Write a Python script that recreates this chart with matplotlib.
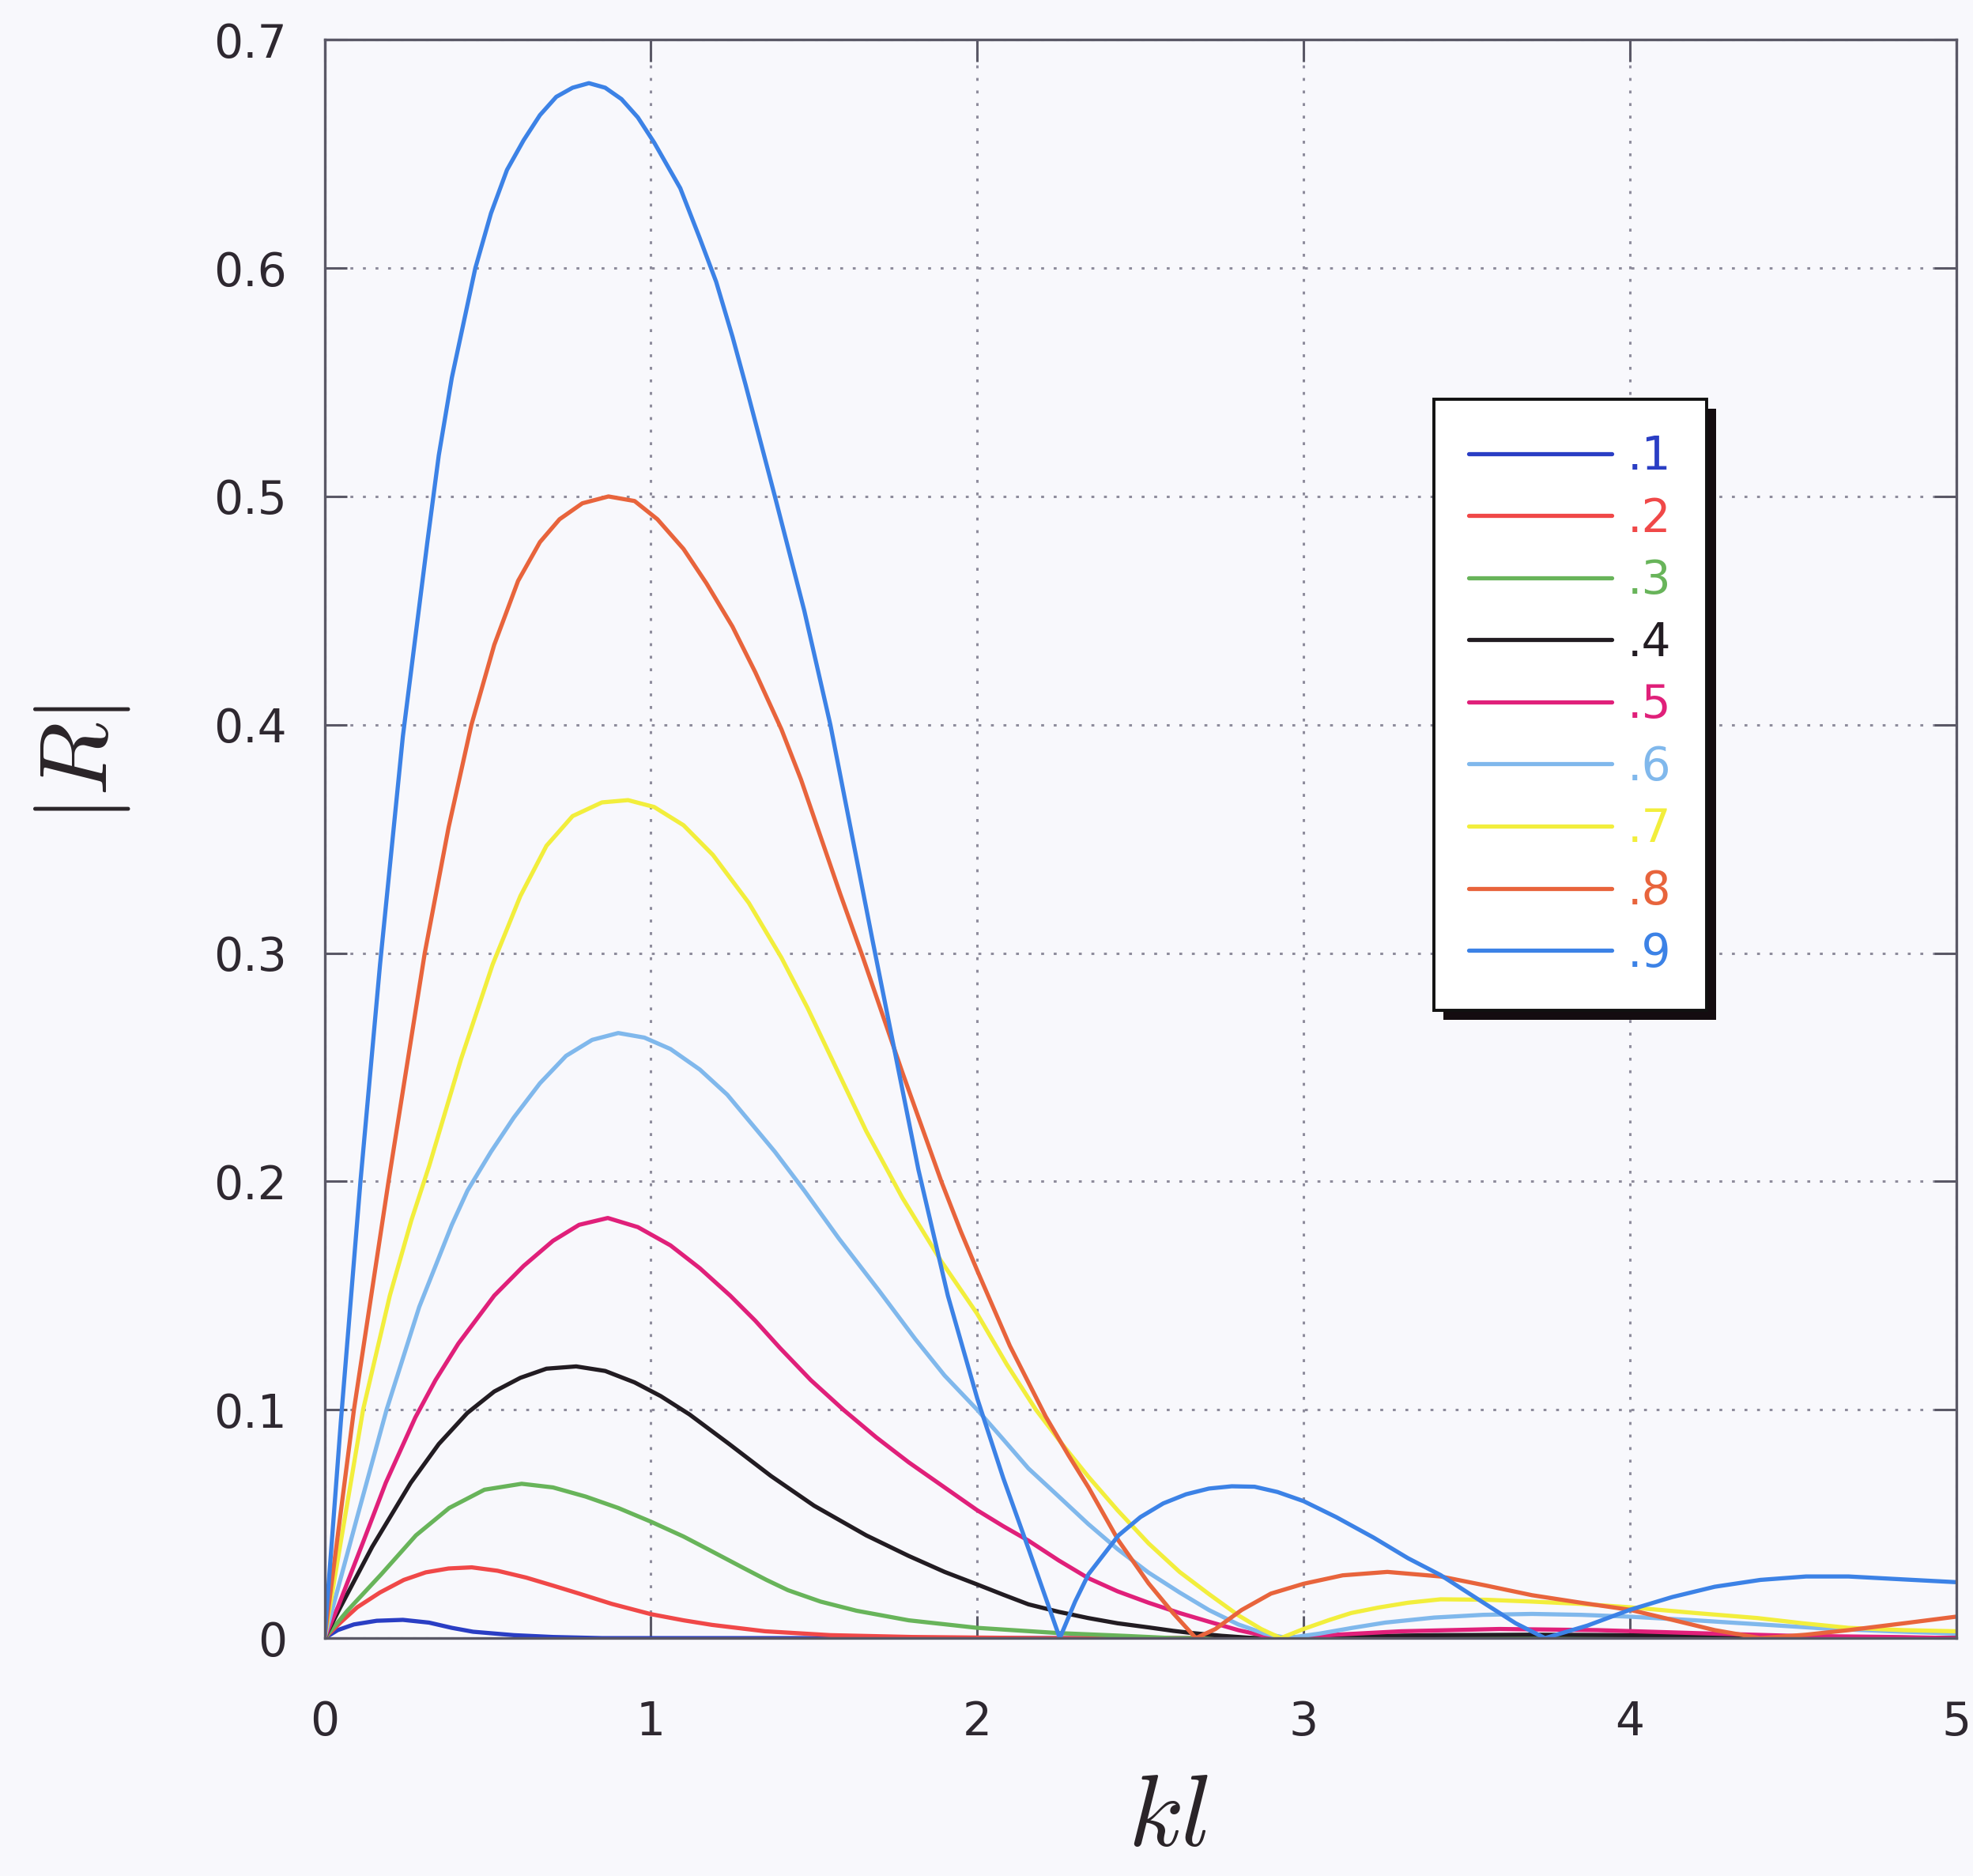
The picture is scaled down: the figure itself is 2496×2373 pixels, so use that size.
"""
|R| against kl for nine values of the step parameter (.1 ... .9).
"""

import matplotlib.pyplot as plt
from matplotlib.patches import Rectangle


OUTPUT_PATH = "out.png"

LABELS = [".1", ".2", ".3", ".4", ".5", ".6", ".7", ".8", ".9"]
COLORS = ["#2a3ec4", "#f04848", "#68b45a", "#221c22", "#e0207a",
          "#80b8ec", "#f2ee3c", "#e8643c", "#3c82e6"]

# values, one pair of lists per curve
kl_1 = [0, 0.04, 0.09, 0.16, 0.24, 0.32, 0.39, 0.455, 0.58, 0.7, 0.85, 5.0]
r_1 = [0, 0.0035, 0.006, 0.0076, 0.008, 0.0068, 0.0045, 0.0028, 0.0013, 0.0005, 0.0, 0.0]

kl_2 = [0, 0.05, 0.1, 0.17, 0.243, 0.31, 0.38, 0.451, 0.53, 0.618, 0.7, 0.78, 0.88, 1.0,
        1.1, 1.187, 1.35, 1.55, 1.8, 2.2, 5.0]
r_2 = [0, 0.007, 0.0135, 0.02, 0.0255, 0.0288, 0.0305, 0.031, 0.0295, 0.0265, 0.023, 0.0195, 0.015, 0.0105,
       0.0078, 0.0058, 0.003, 0.0013, 0.0005, 0.0, 0.0]

kl_3 = [0, 0.07, 0.174, 0.28, 0.382, 0.49, 0.604, 0.7, 0.8, 0.9, 1.0, 1.1, 1.187, 1.28, 1.354,
        1.42, 1.52, 1.63, 1.79, 2.0, 2.25, 2.45, 2.6, 3.5, 5.0]
r_3 = [0, 0.012, 0.028, 0.045, 0.057, 0.065, 0.0676, 0.066, 0.062, 0.057, 0.051, 0.0445, 0.038, 0.031, 0.0255,
       0.021, 0.016, 0.012, 0.0078, 0.0045, 0.0022, 0.001, 0.0, 0.0005, 0.0]

kl_4 = [0, 0.049, 0.146, 0.264, 0.35, 0.4375, 0.52, 0.6, 0.68, 0.771, 0.86, 0.95, 1.03, 1.118,
        1.24, 1.368, 1.5, 1.66, 1.79, 1.9, 2.0, 2.08, 2.157, 2.25, 2.34, 2.43, 2.525, 2.6, 2.66,
        2.75, 2.85, 3.1, 3.4, 3.7, 4.0, 4.4, 5.0]
r_4 = [0, 0.0137, 0.040, 0.068, 0.085, 0.0986, 0.108, 0.114, 0.118, 0.119, 0.117, 0.112, 0.106, 0.098,
       0.085, 0.071, 0.058, 0.045, 0.036, 0.029, 0.0235, 0.019, 0.0148, 0.0115, 0.0088, 0.0065, 0.0047, 0.0032, 0.0022,
       0.001, 0.0, 0.0007, 0.0013, 0.0015, 0.0013, 0.0008, 0.0]

kl_5 = [0, 0.042, 0.118, 0.1875, 0.278, 0.34, 0.41, 0.52, 0.61, 0.70, 0.78, 0.868, 0.96, 1.06,
        1.15, 1.243, 1.32, 1.396, 1.49, 1.59, 1.69, 1.79, 1.9, 2.0, 2.08, 2.157, 2.25, 2.34, 2.43,
        2.525, 2.62, 2.71, 2.8, 2.88, 2.95, 3.1, 3.3, 3.6, 3.9, 4.2, 4.5, 4.8, 5.0]
r_5 = [0, 0.014, 0.042, 0.068, 0.0966, 0.113, 0.129, 0.150, 0.163, 0.174, 0.181, 0.184, 0.18, 0.172,
       0.162, 0.150, 0.139, 0.127, 0.113, 0.1, 0.088, 0.077, 0.066, 0.056, 0.049, 0.0427, 0.034, 0.0263, 0.0205,
       0.0155, 0.011, 0.0072, 0.0035, 0.001, 0.0, 0.0015, 0.003, 0.004, 0.0035, 0.0022, 0.001, 0.0005, 0.0]

kl_6 = [0, 0.1, 0.19, 0.29, 0.39, 0.438, 0.51, 0.58, 0.66, 0.74, 0.82, 0.90, 0.98, 1.06, 1.15,
        1.234, 1.31, 1.38, 1.47, 1.576, 1.70, 1.81, 1.9, 2.0, 2.08, 2.157, 2.25, 2.34, 2.43, 2.525,
        2.62, 2.71, 2.8, 2.88, 2.95, 3.05, 3.15, 3.25, 3.4, 3.55, 3.70, 3.85, 4.0, 4.2, 4.4, 4.6,
        4.8, 5.0]
r_6 = [0, 0.053, 0.1, 0.145, 0.181, 0.196, 0.213, 0.228, 0.243, 0.255, 0.262, 0.265, 0.263, 0.258, 0.249,
       0.238, 0.225, 0.213, 0.196, 0.175, 0.152, 0.131, 0.115, 0.1, 0.087, 0.0743, 0.062, 0.05, 0.039, 0.0287,
       0.02, 0.0123, 0.006, 0.002, 0.0, 0.002, 0.0045, 0.0068, 0.009, 0.0102, 0.0106, 0.0102, 0.0094, 0.0078, 0.006, 0.0042,
       0.003, 0.002]

kl_7 = [0, 0.118, 0.2, 0.266, 0.321, 0.418, 0.515, 0.6, 0.68, 0.76, 0.85, 0.93, 1.01, 1.10, 1.19,
        1.30, 1.40, 1.48, 1.55, 1.66, 1.77, 1.89, 2.0, 2.09, 2.18, 2.26, 2.34, 2.43, 2.525, 2.62, 2.71,
        2.80, 2.87, 2.93, 3.0, 3.08, 3.146, 3.23, 3.32, 3.42, 3.56, 3.70, 3.85, 4.0, 4.2, 4.39,
        4.53, 4.67, 4.84, 5.0]
r_7 = [0, 0.1, 0.15, 0.183, 0.207, 0.2535, 0.295, 0.325, 0.347, 0.36, 0.366, 0.367, 0.364, 0.356, 0.343,
       0.322, 0.298, 0.276, 0.255, 0.222, 0.193, 0.165, 0.142, 0.12, 0.1, 0.085, 0.0708, 0.056, 0.0415, 0.029, 0.0193,
       0.01, 0.004, 0.0, 0.004, 0.008, 0.011, 0.0134, 0.0155, 0.017, 0.0168, 0.016, 0.015, 0.0135, 0.011, 0.0088,
       0.0065, 0.0045, 0.0035, 0.003]

kl_8 = [0, 0.09, 0.196, 0.307, 0.38, 0.45, 0.52, 0.593, 0.66, 0.72, 0.79, 0.87, 0.95, 1.02, 1.10,
        1.17, 1.25, 1.32, 1.40, 1.46, 1.52, 1.58, 1.65, 1.77, 1.89, 1.95, 2.0, 2.1, 2.21, 2.28,
        2.341, 2.433, 2.525, 2.6, 2.67, 2.73, 2.81, 2.90, 3.0, 3.12, 3.257, 3.42, 3.56, 3.70, 3.85,
        4.0, 4.13, 4.26, 4.4, 4.54, 4.67, 4.84, 5.0]
r_8 = [0, 0.1, 0.2, 0.3, 0.355, 0.4, 0.435, 0.463, 0.48, 0.49, 0.497, 0.5, 0.498, 0.49, 0.477,
       0.462, 0.443, 0.423, 0.398, 0.376, 0.351, 0.326, 0.298, 0.248, 0.2, 0.178, 0.161, 0.128, 0.097, 0.08,
       0.066, 0.0427, 0.024, 0.011, 0.0, 0.004, 0.0123, 0.0195, 0.0238, 0.0275, 0.029, 0.027, 0.023, 0.0188, 0.0155,
       0.0124, 0.008, 0.0035, 0.0, 0.0015, 0.0035, 0.0065, 0.0094]

kl_9 = [0, 0.05, 0.11, 0.17, 0.24, 0.315, 0.35, 0.39, 0.462, 0.51, 0.559, 0.61, 0.66, 0.71, 0.76,
        0.81, 0.86, 0.91, 0.96, 1.01, 1.09, 1.15, 1.20, 1.25, 1.29, 1.38, 1.47, 1.55, 1.68, 1.82,
        1.91, 2.0, 2.08, 2.16, 2.253, 2.30, 2.341, 2.433, 2.5, 2.57, 2.64, 2.71, 2.78, 2.85, 2.92,
        3.0, 3.1, 3.215, 3.32, 3.42, 3.56, 3.65, 3.74, 3.87, 4.0, 4.13, 4.26, 4.4, 4.54, 4.67,
        4.8, 5.0]
r_9 = [0, 0.095, 0.2, 0.295, 0.395, 0.48, 0.518, 0.552, 0.6, 0.624, 0.643, 0.656, 0.667, 0.675, 0.679,
       0.681, 0.679, 0.674, 0.666, 0.655, 0.635, 0.613, 0.594, 0.57, 0.549, 0.5, 0.45, 0.4, 0.305, 0.205,
       0.15, 0.105, 0.07, 0.038, 0.0, 0.016, 0.028, 0.045, 0.053, 0.059, 0.063, 0.0655, 0.0665, 0.0663, 0.064,
       0.060, 0.053, 0.044, 0.035, 0.0276, 0.0147, 0.0065, 0.0, 0.0055, 0.0124, 0.018, 0.0225, 0.0255, 0.027, 0.027,
       0.026, 0.0245]

KL_SERIES = [kl_1, kl_2, kl_3, kl_4, kl_5, kl_6, kl_7, kl_8, kl_9]
R_SERIES = [r_1, r_2, r_3, r_4, r_5, r_6, r_7, r_8, r_9]

X_TICKS = [0, 1, 2, 3, 4, 5]
Y_TICKS = [0, 0.1, 0.2, 0.3, 0.4, 0.5, 0.6, 0.7]
Y_TICK_LABELS = ["0", "0.1", "0.2", "0.3", "0.4", "0.5", "0.6", "0.7"]

BG = "#f8f8fc"
AXIS_GREY = "#5a5866"


def main() -> None:
    plt.rcParams["mathtext.fontset"] = "cm"
    plt.rcParams["font.family"] = ["DejaVu Sans"]

    fig = plt.figure(figsize=(24.96, 23.73), dpi=100, facecolor=BG)
    ax = fig.add_axes([0.1645, 0.1268, 0.827, 0.852], facecolor=BG)

    for kl, r, label, color in zip(KL_SERIES, R_SERIES, LABELS, COLORS):
        ax.plot(kl, r, color=color, linewidth=3.8, label=label,
                solid_joinstyle="round", solid_capstyle="round")

    ax.set_xlim(0, 5)
    ax.set_ylim(0, 0.7)
    ax.set_xticks(X_TICKS)
    ax.set_xticklabels([str(t) for t in X_TICKS])
    ax.set_yticks(Y_TICKS)
    ax.set_yticklabels(Y_TICK_LABELS)

    ax.grid(True, color="#8e8c9c", linestyle=(0, (1.2, 4.0)), linewidth=2.2)
    ax.set_axisbelow(True)
    ax.tick_params(direction="in", length=20, width=2.2, color=AXIS_GREY,
                   labelsize=42, labelcolor="#2e2830",
                   top=True, right=True)
    ax.tick_params(axis="x", pad=56)
    ax.tick_params(axis="y", pad=34)
    for spine in ax.spines.values():
        spine.set_color(AXIS_GREY)
        spine.set_linewidth(2.4)

    leg = ax.legend(loc="upper left", bbox_to_anchor=(0.680, 0.775),
                    fontsize=42, labelcolor="linecolor", handlelength=3.1,
                    handletextpad=0.35, borderpad=0.75, labelspacing=0.37,
                    fancybox=False, framealpha=1, facecolor="white",
                    edgecolor="#111111", borderaxespad=0)
    leg.get_frame().set_linewidth(2.8)

    # black drop shadow down and to the right of the legend box
    fig.canvas.draw()
    box = leg.get_window_extent().transformed(ax.transAxes.inverted())
    dx = 12 / (ax.bbox.width)
    dy = 12 / (ax.bbox.height)
    ax.add_patch(Rectangle((box.x0 + dx, box.y0 - dy), box.width, box.height,
                           transform=ax.transAxes, facecolor="#140c10",
                           edgecolor="none", zorder=4.9, clip_on=False))

    fig.text(0.592, 0.031, r"$kl$", fontsize=92, ha="center", va="center", color="#2a2428")
    fig.text(0.0415, 0.593, r"$|R|$", fontsize=88, ha="center", va="center",
             rotation=90, color="#2a2428")

    fig.savefig(OUTPUT_PATH, dpi=100, facecolor=BG)
    plt.close(fig)


if __name__ == "__main__":
    main()
